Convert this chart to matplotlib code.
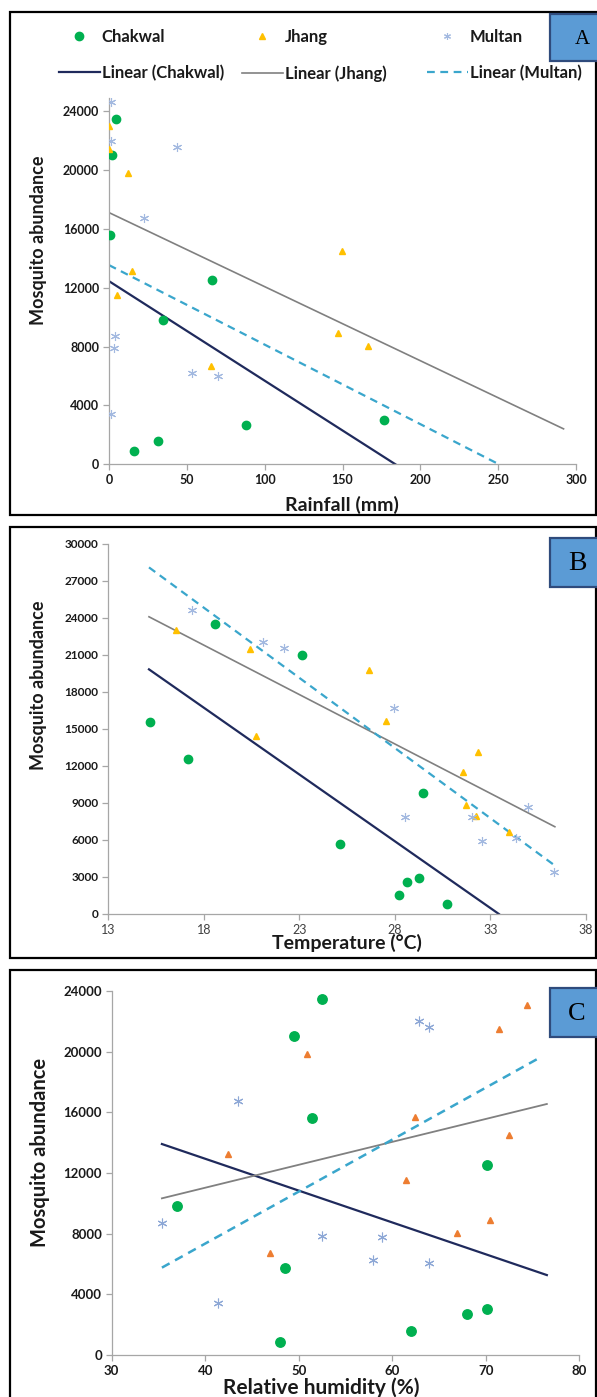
import matplotlib.pyplot as plt
from matplotlib.patches import Rectangle
from matplotlib.lines import Line2D

# ---------------- data ----------------
# Panel A: rainfall (mm) vs mosquito abundance
rain_chakwal = [4.3, 1.7, 0.9, 66.2, 34.8, 176.4, 88, 31.7, 16]
abund_chakwal_A = [23450, 21000, 15560, 12520, 9820, 3000, 2660, 1615, 910]
rain_jhang = [0.0, 0.0, 11.9, 149.6, 14.5, 5.1, 147.4, 166.6, 65.3]
abund_jhang_A = [23000, 21400, 19800, 14520, 13160, 11520, 8910, 8040, 6660]
rain_multan = [1.0, 1.0, 43.4, 22.5, 3.8, 3.4, 53.4, 70, 1.3]
abund_multan_A = [24600, 21970, 21560, 16750, 8720, 7880, 6220, 6000, 3450]
# trend line end points (x0, x1), (y0, y1)
trend_A_x = {"Chakwal": [0, 184], "Jhang": [0, 292], "Multan": [0, 250.5]}
trend_A_y = {"Chakwal": [12450, 0], "Jhang": [17110, 2410], "Multan": [13540, 0]}

# Panel B: temperature (C) vs mosquito abundance
temp_chakwal = [15.18, 17.16, 18.57, 23.15, 25.15, 29.5, 28.65, 29.28, 28.23, 30.75]
abund_chakwal_B = [15580, 12530, 23470, 20980, 5700, 9780, 2570, 2890, 1510, 810]
temp_jhang = [16.57, 20.44, 20.71, 26.63, 27.54, 32.37, 31.57, 31.75, 32.27, 33.98]
abund_jhang_B = [23000, 21440, 14440, 19760, 15630, 13120, 11480, 8830, 7960, 6620]
temp_multan = [17.37, 21.09, 22.19, 27.97, 28.55, 32.03, 32.58, 34.98, 34.33, 36.34]
abund_multan_B = [24620, 22060, 21570, 16710, 7830, 7830, 5940, 8690, 6180, 3430]
trend_B_x = {"Chakwal": [15.13, 33.45], "Jhang": [15.13, 36.38], "Multan": [15.13, 36.34]}
trend_B_y = {"Chakwal": [19820, 0], "Jhang": [24080, 7070], "Multan": [28080, 3970]}

# Panel C: relative humidity (%) vs mosquito abundance
rh_chakwal = [52.52, 49.49, 51.45, 36.97, 48.5, 47.96, 70.1, 70.1, 68.0, 62.05]
abund_chakwal_C = [23450, 21030, 15650, 9850, 5760, 880, 12550, 3010, 2700, 1580]
rh_jhang = [50.88, 42.45, 46.96, 74.46, 71.44, 62.44, 72.48, 61.48, 70.45, 66.93]
abund_jhang_C = [19820, 13230, 6700, 23080, 21490, 15670, 14530, 11540, 8920, 8060]
rh_multan = [43.51, 35.37, 52.48, 41.38, 62.9, 63.97, 58.92, 57.92, 63.9]
abund_multan_C = [16750, 8730, 7870, 3450, 22040, 21600, 7800, 6260, 6040]
trend_C_x = {"Chakwal": [35.37, 76.53], "Jhang": [35.37, 76.53], "Multan": [35.37, 75.96]}
trend_C_y = {"Chakwal": [13910, 5270], "Jhang": [10330, 16550], "Multan": [5760, 19670]}

ticks_A_x = [0, 50, 100, 150, 200, 250, 300]
ticks_A_y = [0, 4000, 8000, 12000, 16000, 20000, 24000]
ticks_B_x = [13, 18, 23, 28, 33, 38]
ticks_B_y = [0, 3000, 6000, 9000, 12000, 15000, 18000, 21000, 24000, 27000, 30000]
ticks_C_x = [30, 40, 50, 60, 70, 80]
ticks_C_y = [0, 4000, 8000, 12000, 16000, 20000, 24000]

# ---------------- styles ----------------
plt.rcParams['font.family'] = ['Lato', 'DejaVu Sans']
GREEN = '#00B050'
GOLD = '#FFC000'
ORANGE = '#ED7D31'
MULTAN = '#A3B9E0'
NAVY = '#1F2A5C'
GRAY = '#808080'
CYAN = '#3AA6CC'
AXCOL = '#A6A6A6'
TXT = '#1A1A1A'
STAR = (6, 2, 0)  # six-armed asterisk like the Excel star marker

W, H = 597, 1397
fig = plt.figure(figsize=(W / 100, H / 100), dpi=100)


def px_axes(left, right, top, bottom):
    # add axes from pixel edges (measured from the top-left corner)
    return fig.add_axes([left / W, 1 - bottom / H, (right - left) / W, (bottom - top) / H])


def px_rect(x0, y0, x1, y1, **kw):
    r = Rectangle((x0 / W, 1 - y1 / H), (x1 - x0) / W, (y1 - y0) / H,
                  transform=fig.transFigure, **kw)
    fig.patches.append(r)


def style(ax):
    for s in ['top', 'right']:
        ax.spines[s].set_visible(False)
    for s in ['left', 'bottom']:
        ax.spines[s].set_color(AXCOL)
        ax.spines[s].set_linewidth(0.9)
    ax.tick_params(direction='out', length=4, color=AXCOL, width=0.9, pad=3)


# panel frames and letter boxes
px_rect(10, 12, 596, 515, fill=False, ec='black', lw=1.6)
px_rect(10, 527, 596, 958, fill=False, ec='black', lw=1.6)
px_rect(10, 970, 596, 1405, fill=False, ec='black', lw=1.6)
for letter, top, bottom, cx, cy, size in [('A', 14, 61, 582, 40, 15),
                                          ('B', 538, 587, 577, 564, 20),
                                          ('C', 988, 1037, 577, 1014, 19)]:
    px_rect(550, top, 612, bottom, fc='#5B9BD5', ec='#2F4B7C', lw=1.6)
    fig.text(cx / W, 1 - cy / H, letter, family='Liberation Serif',
             fontsize=size, ha='center', va='center', color='black')

# ---------------- Panel A ----------------
axA = px_axes(109, 576, 98, 464.3)
axA.plot(rain_chakwal, abund_chakwal_A, 'o', color=GREEN, ms=6, label='Chakwal', zorder=3)
axA.plot(rain_jhang, abund_jhang_A, '^', color=GOLD, ms=4, label='Jhang', zorder=3)
axA.plot(rain_multan, abund_multan_A, ls='none', marker=STAR, color=MULTAN, ms=6.5, mew=0.8,
         label='Multan', zorder=3)
axA.plot(trend_A_x["Chakwal"], trend_A_y["Chakwal"], color=NAVY, lw=1.6)
axA.plot(trend_A_x["Jhang"], trend_A_y["Jhang"], color=GRAY, lw=1.2)
axA.plot(trend_A_x["Multan"], trend_A_y["Multan"], color=CYAN, lw=1.6, dashes=(3.5, 2.5))
axA.set_xlim(0, 300)
axA.set_ylim(0, 24900)
axA.set_xticks(ticks_A_x)
axA.set_yticks(ticks_A_y)
style(axA)
for lab in axA.get_xticklabels() + axA.get_yticklabels():
    lab.set_fontsize(9)
    lab.set_fontweight('bold')
    lab.set_color(TXT)
axA.set_xlabel('Rainfall (mm)', fontsize=14, fontweight='bold', color=TXT)
axA.xaxis.set_label_coords((342 - 109) / 467, -(505 - 464.3) / 366.3)
axA.xaxis.label.set_va('center')
axA.set_ylabel('Mosquito abundance', fontsize=13, fontweight='bold', color=TXT)
axA.yaxis.set_label_coords(-(109 - 39) / 467, (464.3 - 240) / 366.3)
axA.yaxis.label.set_va('center')

# legend: three columns, each a marker entry above a trend-line entry
leg_cols = [
    (59, [Line2D([], [], ls='none', marker='o', color=GREEN, ms=6),
          Line2D([], [], color=NAVY, lw=1.6)], ['Chakwal', 'Linear (Chakwal)']),
    (242, [Line2D([], [], ls='none', marker='^', color=GOLD, ms=4),
           Line2D([], [], color=GRAY, lw=1.2)], ['Jhang', 'Linear (Jhang)']),
    (427, [Line2D([], [], ls='none', marker=STAR, color=MULTAN, ms=5, mew=0.8),
           Line2D([], [], color=CYAN, lw=1.6, dashes=(3.5, 2.5))], ['Multan', 'Linear (Multan)']),
]
for x0, handles, labels in leg_cols:
    lg = fig.legend(handles, labels, loc='upper left', bbox_to_anchor=(x0 / W, 1 - 29 / H),
                    frameon=False, borderpad=0, borderaxespad=0, handlelength=2.45,
                    handletextpad=0.12, labelspacing=1.2,
                    prop={'family': 'Lato', 'weight': 'bold', 'size': 12})
    for t in lg.get_texts():
        t.set_color(TXT)

# ---------------- Panel B ----------------
axB = px_axes(108.3, 585.8, 543.7, 914)
axB.plot(temp_chakwal, abund_chakwal_B, 'o', color=GREEN, ms=6, zorder=3)
axB.plot(temp_jhang, abund_jhang_B, '^', color=GOLD, ms=4, zorder=3)
axB.plot(temp_multan, abund_multan_B, ls='none', marker=STAR, color=MULTAN, ms=6.5, mew=0.8, zorder=3)
axB.plot(trend_B_x["Chakwal"], trend_B_y["Chakwal"], color=NAVY, lw=1.6)
axB.plot(trend_B_x["Jhang"], trend_B_y["Jhang"], color=GRAY, lw=1.2)
axB.plot(trend_B_x["Multan"], trend_B_y["Multan"], color=CYAN, lw=1.6, dashes=(3.5, 2.5))
axB.set_xlim(13, 38)
axB.set_ylim(0, 30000)
axB.set_xticks(ticks_B_x)
axB.set_yticks(ticks_B_y)
style(axB)
for lab in axB.get_xticklabels():
    lab.set_fontsize(9)
    lab.set_color('#404040')
for lab in axB.get_yticklabels():
    lab.set_fontsize(8.5)
    lab.set_fontweight('bold')
    lab.set_color(TXT)
axB.set_xlabel('Temperature (°C)', fontsize=14, fontweight='bold', color=TXT)
axB.xaxis.set_label_coords((347 - 108.3) / 477.5, -(943 - 914) / 370.3)
axB.xaxis.label.set_va('center')
axB.set_ylabel('Mosquito abundance', fontsize=13, fontweight='bold', color=TXT)
axB.yaxis.set_label_coords(-(108.3 - 39) / 477.5, (914 - 685) / 370.3)
axB.yaxis.label.set_va('center')

# ---------------- Panel C ----------------
axC = px_axes(111.7, 579.3, 991, 1355)
axC.plot(rh_chakwal, abund_chakwal_C, 'o', color=GREEN, ms=6.8, zorder=3)
axC.plot(rh_jhang, abund_jhang_C, '^', color=ORANGE, ms=5, zorder=3)
axC.plot(rh_multan, abund_multan_C, ls='none', marker=STAR, color='#8EA8D6', ms=7, mew=0.8, zorder=3)
axC.plot(trend_C_x["Chakwal"], trend_C_y["Chakwal"], color=NAVY, lw=1.6)
axC.plot(trend_C_x["Jhang"], trend_C_y["Jhang"], color=GRAY, lw=1.3)
axC.plot(trend_C_x["Multan"], trend_C_y["Multan"], color=CYAN, lw=1.8, dashes=(3.5, 2.5))
axC.set_xlim(30, 80)
axC.set_ylim(0, 24000)
axC.set_xticks(ticks_C_x)
axC.set_yticks(ticks_C_y)
style(axC)
for lab in axC.get_xticklabels() + axC.get_yticklabels():
    lab.set_fontsize(9.5)
    lab.set_fontweight('bold')
    lab.set_color(TXT)
axC.set_xlabel('Relative humidity (%)', fontsize=15, fontweight='bold', color=TXT)
axC.xaxis.set_label_coords((321 - 111.7) / 467.6, -(1388 - 1355) / 364)
axC.xaxis.label.set_va('center')
axC.set_ylabel('Mosquito abundance', fontsize=14.5, fontweight='bold', color=TXT)
axC.yaxis.set_label_coords(-(111.7 - 40) / 467.6, (1355 - 1152) / 364)
axC.yaxis.label.set_va('center')

fig.savefig('out.png', dpi=100, facecolor='white')
